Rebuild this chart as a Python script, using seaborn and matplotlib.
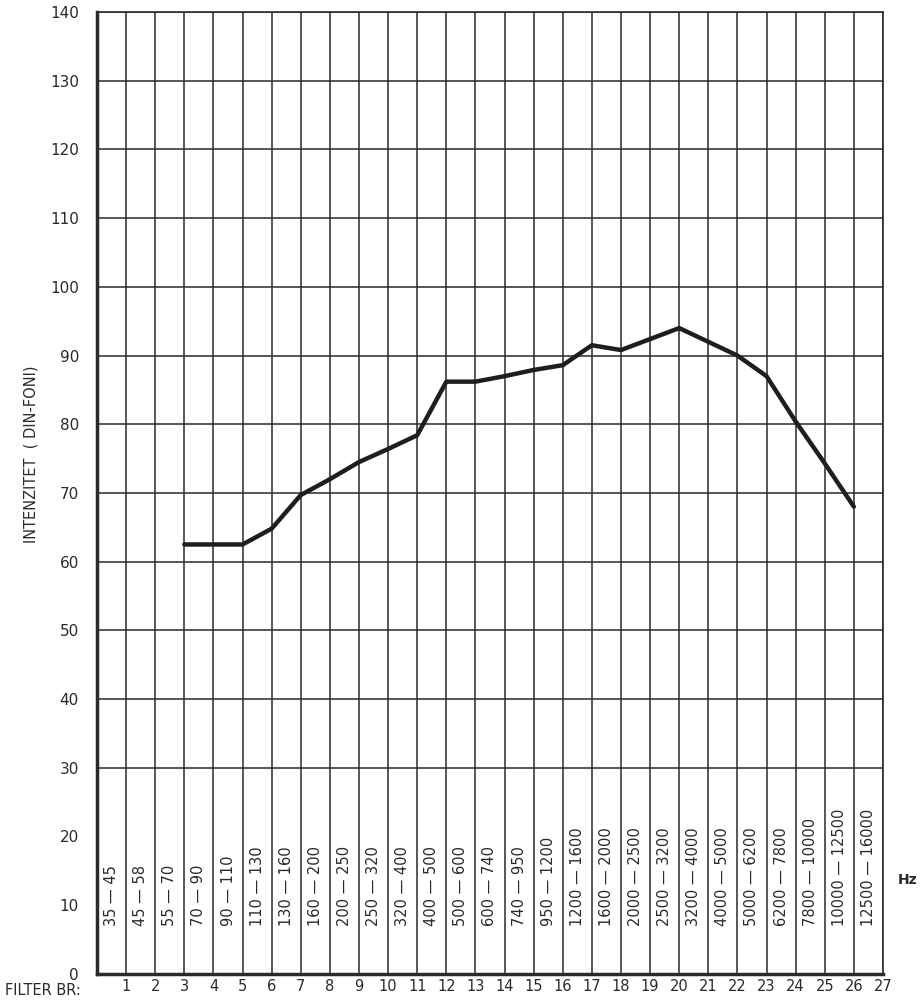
import pandas as pd
import matplotlib
matplotlib.use("Agg")
import matplotlib.pyplot as plt
import seaborn as sns

# filter numbers and measured intensity (DIN-foni)
filter_no = [3, 4, 5, 6, 7, 8, 9, 10, 11, 12, 13, 14, 15, 16, 17, 18, 19, 20, 21, 22, 23, 24, 25, 26]
intensity = [62.5, 62.5, 62.5, 64.8, 69.7, 72.0, 74.5, 76.4, 78.4, 86.2, 86.2, 87.0, 87.9, 88.6,
             91.5, 90.8, 92.4, 94.0, 92.0, 90.0, 87.0, 80.4, 74.3, 68.0]

# frequency bands (Hz) of each filter column
bands = ["35 — 45", "45 — 58", "55 — 70", "70 — 90", "90 — 110", "110 — 130", "130 — 160",
         "160 — 200", "200 — 250", "250 — 320", "320 — 400", "400 — 500", "500 — 600",
         "600 — 740", "740 — 950", "950 — 1200", "1200 — 1600", "1600 — 2000", "2000 — 2500",
         "2500 — 3200", "3200 — 4000", "4000 — 5000", "5000 — 6200", "6200 — 7800",
         "7800 — 10000", "10000 — 12500", "12500 — 16000"]

filter_ticks = list(range(1, 28))
y_ticks = list(range(0, 141, 10))

df = pd.DataFrame({"filter": filter_no, "intensity": intensity})

sns.set_style("white")
plt.rcParams['font.family'] = ['DejaVu Sans']
ink = "#2a2a2a"

fig = plt.figure(figsize=(9.24, 10.06), dpi=100)
ax = fig.add_axes([0.105, 0.032, 0.8506, 0.956])

# grid (no horizontal lines through the band-label strip)
for xv in range(0, 28):
    ax.axvline(xv, color=ink, lw=1.1, zorder=1)
for yv in y_ticks:
    if yv in (10, 20):
        continue
    ax.axhline(yv, color=ink, lw=1.1, zorder=1)

sns.lineplot(data=df, x="filter", y="intensity", color="#1e1e1e", lw=3.2, ax=ax, zorder=3)

# band labels inside the columns
for i, b in enumerate(bands):
    ax.text(i + 0.5, 7, b, rotation=90, ha="center", va="bottom",
            fontsize=10.5, color=ink, zorder=4)

ax.set_xlim(0, 27)
ax.set_ylim(0, 140)
ax.set_xticks(filter_ticks)
ax.set_xticklabels([str(t) for t in filter_ticks], fontsize=10.5, color=ink)
ax.set_yticks(y_ticks)
ax.set_yticklabels([str(t) for t in y_ticks], fontsize=11, color=ink)
ax.tick_params(axis="x", length=0, pad=4)
ax.tick_params(axis="y", length=4, width=1.1, color=ink, direction="out", pad=9)
ax.set_xlabel("")
ax.set_ylabel("INTENZITET  ( DIN-FONI)", fontsize=10.5, color=ink)
ax.yaxis.set_label_coords(-0.075, 0.54)

for side in ["top", "right"]:
    ax.spines[side].set_linewidth(1.2)
    ax.spines[side].set_color(ink)
for side in ["left", "bottom"]:
    ax.spines[side].set_linewidth(2.5)
    ax.spines[side].set_color(ink)

fig.text(0.005, 0.0155, "FILTER BR:", fontsize=10.5, color=ink, va="center")
fig.text(0.972, 0.125, "Hz", fontsize=10, color=ink, fontweight="bold", va="center")

fig.savefig("out.png", dpi=100, facecolor="white")
